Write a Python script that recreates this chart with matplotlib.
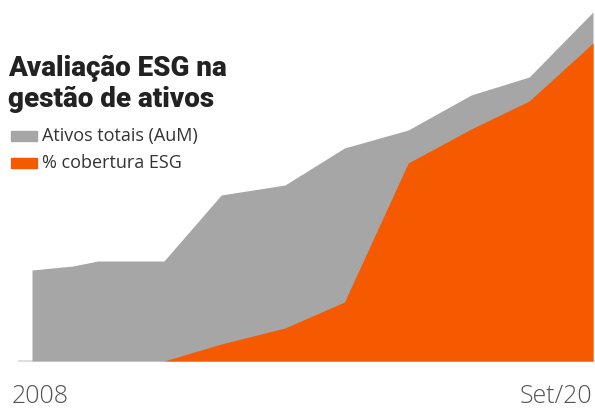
import matplotlib
matplotlib.use("Agg")
import matplotlib.pyplot as plt
import numpy as np

# Data (arbitrary index units)
years = [2008.0, 2008.93, 2009.5, 2011.0, 2012.3, 2013.75, 2015.1, 2016.55, 2017.98, 2019.3, 2020.75]
aum = [91, 95, 100, 100, 166, 176, 213, 231, 266, 284, 349]
esg = [np.nan, np.nan, np.nan, 0, 17, 33, 59, 198, 232, 260, 318]
tick_labels = ["2008", "Set/20"]
title_lines = ["Avaliação ESG na", "gestão de ativos"]
series_names = ["Ativos totais (AuM)", "% cobertura ESG"]

W, H = 595, 408
fig = plt.figure(figsize=(W / 100, H / 100), dpi=100)
fig.patch.set_facecolor("white")

x0, x1, yb, yt = 32, 593, 361, 12
ax = fig.add_axes([x0 / W, (H - yb) / H, (x1 - x0) / W, (yb - yt) / H])
ax.set_xlim(years[0], years[-1])
ax.set_ylim(0, max(aum))
ax.axis("off")

grey = "#a6a6a6"
orange = "#f55a00"
ax.fill_between(years, 0, aum, color=grey, linewidth=0)
esg_arr = np.array(esg, dtype=float)
mask = ~np.isnan(esg_arr)
ax.fill_between(np.array(years)[mask], 0, esg_arr[mask], color=orange, linewidth=0)

# baseline
frac0 = (19 - x0) / (x1 - x0)
frac1 = (595 - x0) / (x1 - x0)
ax.axhline(0, xmin=frac0, xmax=frac1, color="#d9d9d9", lw=1.2, clip_on=False, zorder=0)

# Title
for line, base in zip(title_lines, [76, 107]):
    fig.text(8 / W, 1 - base / H, line, ha="left", va="baseline", fontsize=20,
             fontweight="black", family="Roboto", color="#222222")

# Legend
for i, (name, col) in enumerate(zip(series_names, [grey, orange])):
    yc = 136 + i * 27
    fig.patches.append(matplotlib.patches.Rectangle((11 / W, 1 - (yc + 5) / H), 26 / W, 10 / H,
                                                    transform=fig.transFigure, color=col))
    fig.text(42 / W, 1 - yc / H, name, ha="left", va="center", fontsize=13,
             family="Open Sans", color="#333333")

# Tick labels
fig.text(12 / W, 1 - 403 / H, tick_labels[0], ha="left", va="baseline", fontsize=18,
         family="Open Sans", fontweight="light", color="#555555")
fig.text(592 / W, 1 - 403 / H, tick_labels[1], ha="right", va="baseline", fontsize=18,
         family="Open Sans", fontweight="light", color="#555555")

fig.savefig("out.png", dpi=100)
